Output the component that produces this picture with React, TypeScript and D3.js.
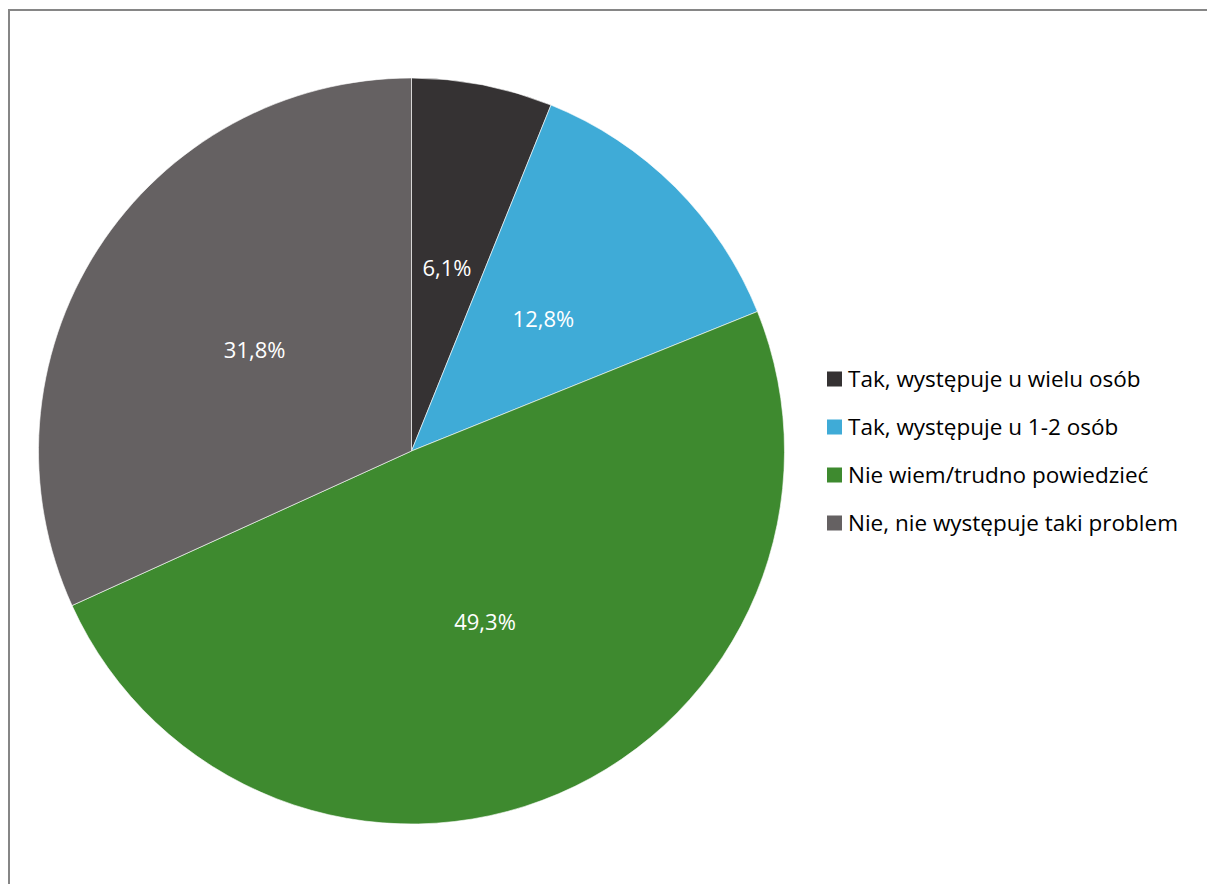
import * as d3 from "d3";
import { useEffect, useRef } from "react";

const categories = [
  "Tak, występuje u wielu osób",
  "Tak, występuje u 1-2 osób",
  "Nie wiem/trudno powiedzieć",
  "Nie, nie występuje taki problem",
];
const values = [6.1, 12.8, 49.3, 31.8];
const colors = ["#353233", "#3fabd7", "#3e8a2f", "#656162"];

const App = () => {
  const ref = useRef<SVGSVGElement | null>(null);

  useEffect(() => {
    const svg = d3.select(ref.current);
    svg.selectAll("*").remove();

    const width = 1207;
    const height = 884;
    svg.attr("width", width).attr("height", height);

    svg
      .append("rect")
      .attr("width", width)
      .attr("height", height)
      .attr("fill", "#ffffff");

    // chart frame, runs past the right and bottom edges
    svg
      .append("rect")
      .attr("x", 9)
      .attr("y", 10)
      .attr("width", 1400)
      .attr("height", 1000)
      .attr("fill", "none")
      .attr("stroke", "#868686")
      .attr("stroke-width", 2);

    const cx = 411.5;
    const cy = 451;
    const radius = 373;

    const pie = d3
      .pie<number>()
      .sort(null)
      .value((d) => d);
    const arcs = pie(values);
    const arc = d3.arc<d3.PieArcDatum<number>>().innerRadius(0).outerRadius(radius);

    const g = svg.append("g").attr("transform", `translate(${cx}, ${cy})`);

    g.selectAll("path")
      .data(arcs)
      .enter()
      .append("path")
      .attr("d", arc)
      .attr("fill", (_, i) => colors[i])
      .attr("stroke", "#ffffff")
      .attr("stroke-opacity", 0.6)
      .attr("stroke-width", 1);

    g.selectAll("text")
      .data(arcs)
      .enter()
      .append("text")
      .attr("x", (d) => arc.centroid(d)[0])
      .attr("y", (d) => arc.centroid(d)[1])
      .attr("dy", "0.35em")
      .attr("text-anchor", "middle")
      .style("font-family", "'Open Sans', sans-serif")
      .style("font-size", "22px")
      .style("fill", "#ffffff")
      .text((d) => `${d.data.toFixed(1).replace(".", ",")}%`);

    // Legend
    const legend = svg
      .append("g")
      .selectAll("g")
      .data(categories)
      .enter()
      .append("g")
      .attr("transform", (_, i) => `translate(827, ${379 + i * 48})`);

    legend
      .append("rect")
      .attr("x", 0)
      .attr("y", -7.5)
      .attr("width", 15)
      .attr("height", 15)
      .attr("fill", (_, i) => colors[i]);

    legend
      .append("text")
      .attr("x", 21)
      .attr("dy", "0.35em")
      .style("font-family", "'Open Sans', sans-serif")
      .style("font-size", "22.5px")
      .style("fill", "#000000")
      .text((d) => d);
  }, []);

  return (
    <svg
      ref={ref}
      style={{ position: "absolute", left: 0, top: 0, display: "block" }}
    ></svg>
  );
};

export default App;
